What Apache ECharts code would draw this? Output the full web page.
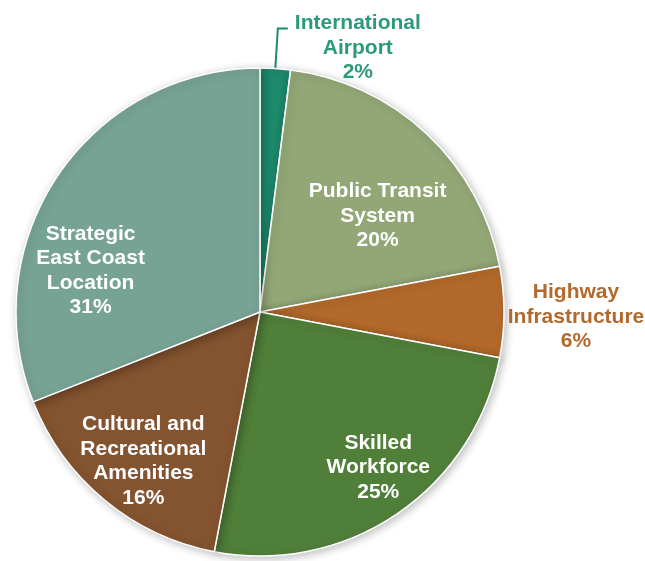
<!DOCTYPE html>
<html>
<head>
<meta charset="utf-8">
<script src="https://cdn.jsdelivr.net/npm/echarts@6/dist/echarts.min.js"></script>
<style>
  html, body { margin: 0; padding: 0; background: #ffffff; }
  #chart { width: 645px; height: 561px; }
</style>
</head>
<body>
<div id="chart"></div>
<script>
// Share of factors, clockwise from 12 o'clock
const categories = [
  'International\nAirport',
  'Public Transit\nSystem',
  'Highway\nInfrastructure',
  'Skilled\nWorkforce',
  'Cultural and\nRecreational\nAmenities',
  'Strategic\nEast Coast\nLocation'
];
const shares = [2, 20, 6, 25, 16, 31];
const sliceColors = ['#1d8a6c', '#92a676', '#b2692b', '#507f3a', '#84532f', '#77a394'];

// nudges for the labels drawn inside their slices
const insideLabelShift = { 1: [32, -5], 3: [48, 52], 4: [-37, 53], 5: [-66, 29] };

const FONT = '"Liberation Sans", Arial, sans-serif';

function centeredRich(name, value) {
  return name.split('\n').map(s => '{c|' + s + '}').join('\n') + '\n{c|' + value + '%}';
}

const data = categories.map((name, i) => {
  const item = { name: name, value: shares[i], itemStyle: { color: sliceColors[i] } };
  if (i === 0) {
    item.label = {
      position: 'outside',
      color: '#2a9a7a',
      width: 128,
      overflow: 'none',
      padding: [39, 0, 0, 0],
      distanceToLabelLine: 6,
      formatter: p => centeredRich(p.name, p.value),
      rich: { c: { align: 'center', color: '#2a9a7a', fontFamily: FONT, fontWeight: 'bold', fontSize: 21, lineHeight: 24.5 } }
    };
    item.labelLine = { show: true, length: 40, length2: 10, lineStyle: { color: '#1d8a6c', width: 2 } };
  } else if (i === 2) {
    item.label = {
      position: 'outside',
      color: '#b2692b',
      width: 138,
      overflow: 'none',
      padding: [10, 0, 0, 0],
      distanceToLabelLine: 3,
      formatter: p => centeredRich(p.name, p.value),
      rich: { c: { align: 'center', color: '#b2692b', fontFamily: FONT, fontWeight: 'bold', fontSize: 21, lineHeight: 24.5 } }
    };
    item.labelLine = { show: false, length: 0, length2: 0 };
  }
  return item;
});

const chart = echarts.init(document.getElementById('chart'), null, { renderer: 'canvas' });
chart.setOption({
  backgroundColor: '#ffffff',
  animation: false,
  series: [{
    type: 'pie',
    center: [260, 312],
    radius: [0, 244],
    startAngle: 90,
    clockwise: true,
    avoidLabelOverlap: false,
    data: data,
    itemStyle: {
      borderColor: '#ffffff',
      borderWidth: 1.5,
      shadowBlur: 8,
      shadowOffsetX: 2,
      shadowOffsetY: 2,
      shadowColor: 'rgba(0,0,0,0.25)'
    },
    label: {
      show: true,
      position: 'inside',
      color: '#ffffff',
      fontFamily: FONT,
      fontWeight: 'bold',
      fontSize: 21,
      lineHeight: 24.5,
      align: 'center',
      formatter: p => p.name + '\n' + p.value + '%'
    },
    labelLayout: function (p) {
      const s = insideLabelShift[p.dataIndex];
      return s ? { dx: s[0], dy: s[1] } : {};
    }
  }]
});
</script>
</body>
</html>
